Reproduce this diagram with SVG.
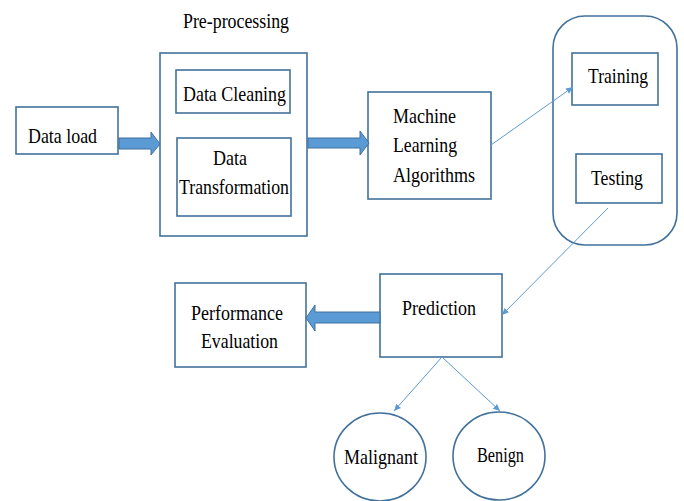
<svg xmlns="http://www.w3.org/2000/svg" width="684" height="501" viewBox="0 0 684 501">
<defs>
<style>
.box{fill:#fff;stroke:#41719C;stroke-width:1.6}
.t{font-family:"Liberation Serif","Times New Roman",serif;font-size:21px;fill:#000}
.fat{fill:#5B9BD5;stroke:#41719C;stroke-width:1}
.thin{stroke:#5B9BD5;stroke-width:1;fill:none;marker-end:url(#ah)}
</style>
<marker id="ah" markerWidth="8" markerHeight="8" refX="7" refY="4" orient="auto" markerUnits="userSpaceOnUse">
<path d="M0,0.8 L7,4 L0,7.2 Z" fill="#5B9BD5"/>
</marker>
</defs>
<rect width="684" height="501" fill="#fff"/>
<g id="dataload">
<rect class="box" x="16" y="107" width="102" height="47"/>
<text class="t" x="28" y="143" textLength="69" lengthAdjust="spacingAndGlyphs">Data load</text>
</g>
<g id="preprocessing">
<text class="t" x="183" y="28" textLength="106" lengthAdjust="spacingAndGlyphs">Pre-processing</text>
<rect class="box" x="160" y="53" width="147" height="183"/>
</g>
<g id="cleaning">
<rect class="box" x="176" y="70" width="114" height="43"/>
<text class="t" x="183" y="101" textLength="103" lengthAdjust="spacingAndGlyphs">Data Cleaning</text>
</g>
<g id="transformation">
<rect class="box" x="177" y="138" width="114" height="78"/>
<text class="t" x="213" y="165" textLength="34" lengthAdjust="spacingAndGlyphs">Data</text>
<text class="t" x="179" y="194" textLength="110" lengthAdjust="spacingAndGlyphs">Transformation</text>
</g>
<g id="ml">
<rect class="box" x="368" y="92" width="123" height="107"/>
<text class="t" x="393" y="123" textLength="63" lengthAdjust="spacingAndGlyphs">Machine</text>
<text class="t" x="393" y="152" textLength="64" lengthAdjust="spacingAndGlyphs">Learning</text>
<text class="t" x="393" y="182" textLength="82" lengthAdjust="spacingAndGlyphs">Algorithms</text>
</g>
<g id="container">
<rect class="box" x="553" y="16" width="124" height="229" rx="32" ry="32"/>
</g>
<g id="training">
<rect class="box" x="572" y="53" width="86" height="52"/>
<text class="t" x="588" y="83" textLength="60" lengthAdjust="spacingAndGlyphs">Training</text>
</g>
<g id="testing">
<rect class="box" x="576" y="154" width="86" height="49"/>
<text class="t" x="591" y="185" textLength="52" lengthAdjust="spacingAndGlyphs">Testing</text>
</g>
<g id="prediction">
<rect class="box" x="380" y="274" width="122" height="83"/>
<text class="t" x="402" y="315" textLength="74" lengthAdjust="spacingAndGlyphs">Prediction</text>
</g>
<g id="performance">
<rect class="box" x="175" y="283" width="131" height="84"/>
<text class="t" x="191" y="320" textLength="92" lengthAdjust="spacingAndGlyphs">Performance</text>
<text class="t" x="201" y="348" textLength="77" lengthAdjust="spacingAndGlyphs">Evaluation</text>
</g>
<g id="malignant">
<ellipse class="box" cx="380" cy="457" rx="46" ry="44"/>
<text class="t" x="344" y="464" textLength="74" lengthAdjust="spacingAndGlyphs">Malignant</text>
</g>
<g id="benign">
<ellipse class="box" cx="499" cy="456" rx="46" ry="44"/>
<text class="t" x="477" y="462" textLength="47" lengthAdjust="spacingAndGlyphs">Benign</text>
</g>
<g id="connectors">
<path class="fat" d="M119,138 L151,138 L151,132 L160,144 L151,155 L151,149 L119,149 Z"/>
<path class="fat" d="M308,138 L360,138 L360,131 L369,143 L360,155 L360,148 L308,148 Z"/>
<path class="fat" d="M380,312 L315,312 L315,305 L306,318 L315,331 L315,323 L380,323 Z"/>
<line class="thin" x1="491" y1="145" x2="573" y2="87"/>
<line class="thin" x1="608" y1="208" x2="502" y2="315"/>
<line class="thin" x1="442" y1="357" x2="394" y2="411"/>
<line class="thin" x1="442" y1="357" x2="500" y2="411"/>
</g>
</svg>
